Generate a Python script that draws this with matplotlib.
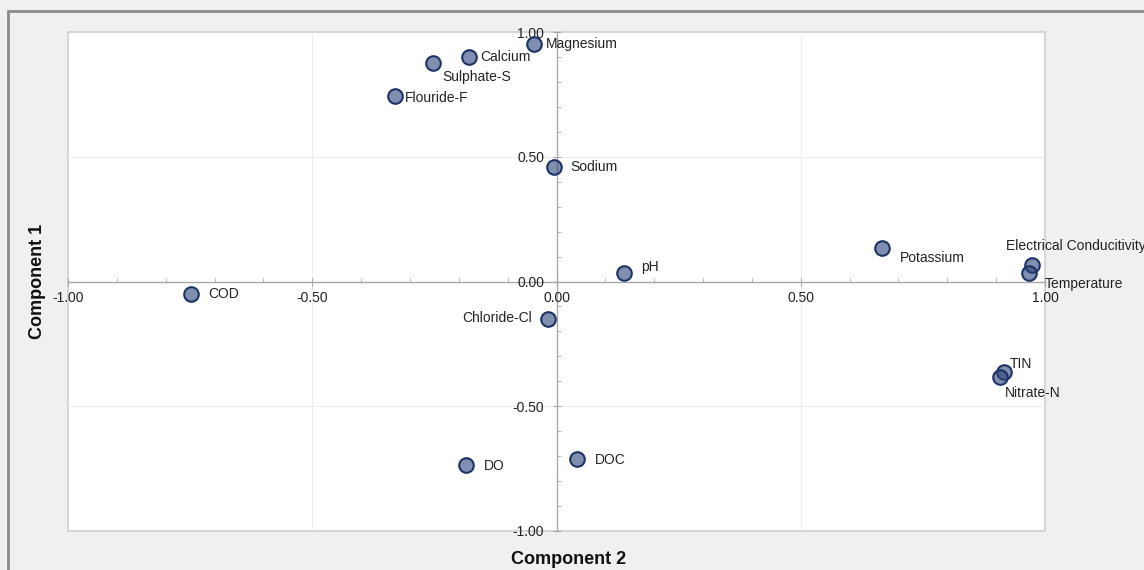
import matplotlib
matplotlib.use("Agg")
import matplotlib.pyplot as plt
from matplotlib.ticker import MultipleLocator, FixedLocator
from matplotlib.patches import Rectangle

plt.rcParams['font.family'] = ['Liberation Sans', 'DejaVu Sans']

# loadings
variables = ["Magnesium", "Calcium", "Sulphate-S", "Flouride-F", "Sodium",
             "Potassium", "Electrical Conducitivity", "Temperature", "pH",
             "COD", "Chloride-Cl", "TIN", "Nitrate-N", "DO", "DOC"]
component2 = [-0.046, -0.179, -0.253, -0.331, -0.005,
              0.666, 0.973, 0.967, 0.138,
              -0.748, -0.017, 0.916, 0.908, -0.185, 0.042]
component1 = [0.952, 0.900, 0.876, 0.744, 0.459,
              0.134, 0.066, 0.034, 0.034,
              -0.050, -0.150, -0.363, -0.383, -0.735, -0.711]
tick_values = [-1.0, -0.5, 0.0, 0.5, 1.0]

# label placement (pixels from the point, +y = up), alignment
label_pos = {
    "Magnesium": (12, 0, 'left'),
    "Calcium": (11, 0, 'left'),
    "Sulphate-S": (9, -14, 'left'),
    "Flouride-F": (10, -2, 'left'),
    "Sodium": (16, 0, 'left'),
    "Potassium": (18, -10, 'left'),
    "Electrical Conducitivity": (-26, 19, 'left'),
    "Temperature": (16, -11, 'left'),
    "pH": (17, 6, 'left'),
    "COD": (17, 0, 'left'),
    "Chloride-Cl": (-16, 1, 'right'),
    "TIN": (6, 8, 'left'),
    "Nitrate-N": (5, -16, 'left'),
    "DO": (18, -1, 'left'),
    "DOC": (18, -1, 'left'),
}

fig = plt.figure(figsize=(11.44, 5.70), dpi=100)
fig.patch.set_facecolor('#f0f0f0')
# outer frame
fig.patches.append(Rectangle((7.5 / 1144, -0.05), 1.2, (570 - 10.5) / 570 + 0.05,
                             transform=fig.transFigure, fill=False,
                             edgecolor='#8a8a8a', linewidth=2, zorder=0))

ax = fig.add_axes([68 / 1144, 39 / 570, 977 / 1144, 499 / 570])
ax.set_facecolor('white')
ax.set_xlim(-1, 1)
ax.set_ylim(-1, 1)

for s in ['top', 'right']:
    ax.spines[s].set_visible(False)
for s in ['left', 'bottom']:
    ax.spines[s].set_position(('data', 0))
    ax.spines[s].set_color('#a8a8a8')
    ax.spines[s].set_linewidth(1)
    ax.spines[s].set_zorder(1)

# plot area border
ax.add_patch(Rectangle((0, 0), 1, 1, transform=ax.transAxes, fill=False,
                       edgecolor='#cfcfcf', linewidth=1.2, clip_on=False, zorder=0))

for v in [-0.5, 0.5]:
    ax.axvline(v, color='#ececec', linewidth=0.8, zorder=0)
    ax.axhline(v, color='#ececec', linewidth=0.8, zorder=0)

ax.xaxis.set_major_locator(FixedLocator(tick_values))
ax.yaxis.set_major_locator(FixedLocator(tick_values))
ax.xaxis.set_minor_locator(MultipleLocator(0.1))
ax.yaxis.set_minor_locator(MultipleLocator(0.1))
ax.set_xticklabels(["%.2f" % v for v in tick_values])
ax.set_yticklabels(["%.2f" % v for v in tick_values])
ax.tick_params(which='major', direction='inout', length=6, color='#a8a8a8',
               labelsize=10, labelcolor='#222222')
ax.tick_params(which='minor', direction='in', length=3, color='#a8a8a8')
ax.tick_params(axis='x', which='major', pad=4)
ax.tick_params(axis='y', which='major', pad=6)

ax.scatter(component2, component1, s=110, facecolor=(0.17, 0.27, 0.48, 0.6),
           edgecolor='#1b3366', linewidth=1.5, zorder=3)

for name, x, y in zip(variables, component2, component1):
    dx, dy, ha = label_pos[name]
    ax.annotate(name, (x, y), xytext=(dx, dy), textcoords='offset pixels',
                ha=ha, va='center', fontsize=10, color='#222222', zorder=4,
                annotation_clip=False)

fig.text(569 / 1144, 1 - 560 / 570, "Component 2", ha='center', va='center',
         fontsize=13, fontweight='bold', color='#111111')
fig.text(38 / 1144, 1 - 281 / 570, "Component 1", ha='center', va='center',
         rotation=90, fontsize=13, fontweight='bold', color='#111111')

fig.savefig("out.png", dpi=100, facecolor=fig.get_facecolor())
